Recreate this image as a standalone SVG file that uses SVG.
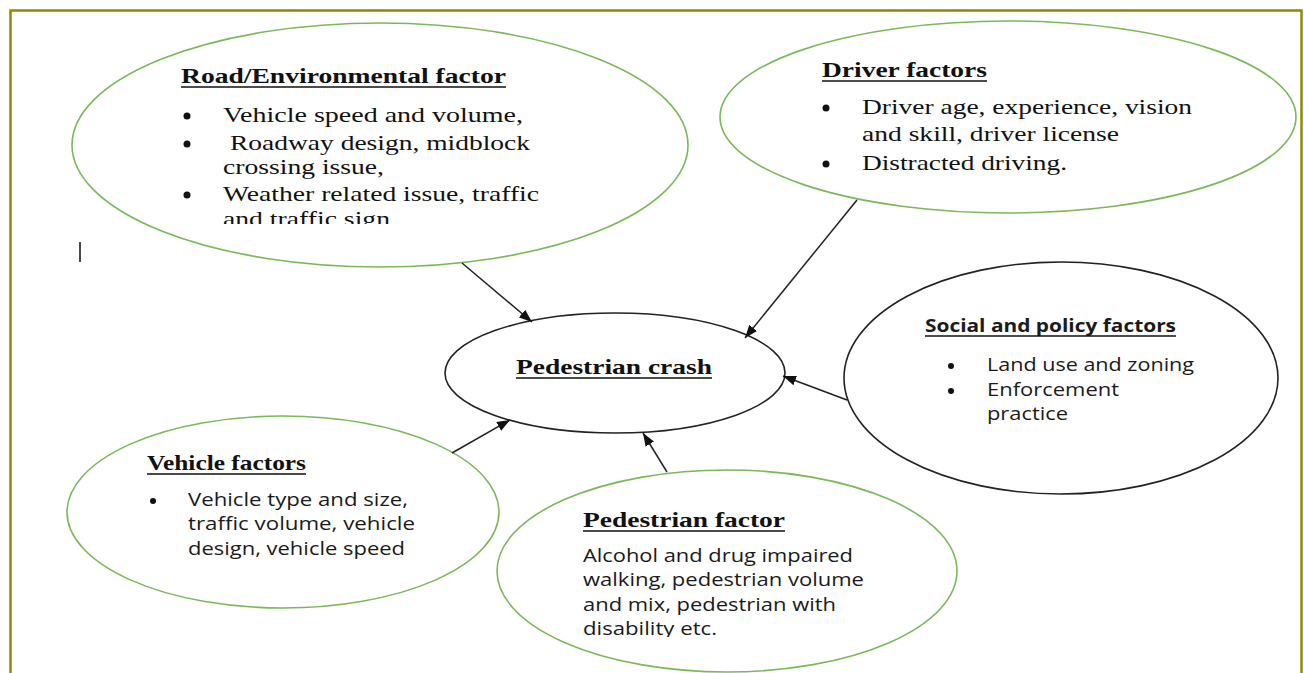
<svg xmlns="http://www.w3.org/2000/svg" width="1304" height="673" viewBox="0 0 1304 673">
<style>
.bg{fill:#ffffff}
.frame{fill:none;stroke:#8c8c00;stroke-width:2.5}
.eg{fill:#ffffff;stroke:#7ab95a;stroke-width:1.6}
.ek{fill:#ffffff;stroke:#222222;stroke-width:1.6}
.serif{font-family:"Liberation Serif","Times New Roman",serif;font-size:21px;fill:#111111}
.sb{font-weight:bold}
.sans{font-family:"Open Sans","Liberation Sans",sans-serif;font-size:17.5px;fill:#1a1a1a}
.sansb{font-family:"Open Sans","Liberation Sans",sans-serif;font-size:17.5px;font-weight:bold;fill:#1a1a1a}
.ul{stroke:#111111;stroke-width:1.6}
.dot{fill:#111111}
.conn{stroke:#222222;stroke-width:1.5;fill:none;marker-end:url(#ah)}
</style>
<defs>
<marker id="ah" markerUnits="userSpaceOnUse" markerWidth="13" markerHeight="10" refX="13" refY="5" orient="auto">
<path d="M0,0 L13,5 L0,10 z" fill="#111111"/>
</marker>
<clipPath id="clipRoad"><rect x="60" y="20" width="640" height="204"/></clipPath>
<clipPath id="clipPed"><rect x="490" y="470" width="480" height="167"/></clipPath>
</defs>
<rect class="bg" x="0" y="0" width="1304" height="673"/>
<rect class="frame" x="10.5" y="10.5" width="1291" height="700"/>
<line x1="80" y1="242" x2="80" y2="262" stroke="#111" stroke-width="1.5"/>

<g id="node-road">
<ellipse class="eg" cx="380" cy="145" rx="308" ry="122"/>
<text class="serif sb" x="181" y="83" textLength="325" lengthAdjust="spacingAndGlyphs">Road/Environmental factor</text>
<line class="ul" x1="181" y1="87" x2="506" y2="87"/>
<circle class="dot" cx="187" cy="116" r="3.5"/>
<circle class="dot" cx="187" cy="144" r="3.5"/>
<circle class="dot" cx="187" cy="195" r="3.5"/>
<text class="serif" x="223" y="122" textLength="300" lengthAdjust="spacingAndGlyphs">Vehicle speed and volume,</text>
<text class="serif" x="230" y="150" textLength="300" lengthAdjust="spacingAndGlyphs">Roadway design, midblock</text>
<text class="serif" x="223" y="174" textLength="161" lengthAdjust="spacingAndGlyphs">crossing issue,</text>
<text class="serif" x="223" y="201" textLength="316" lengthAdjust="spacingAndGlyphs">Weather related issue, traffic</text>
<text class="serif" x="223" y="226" textLength="167" lengthAdjust="spacingAndGlyphs" clip-path="url(#clipRoad)">and traffic sign</text>
</g>

<g id="node-driver">
<ellipse class="eg" cx="1008" cy="117" rx="288" ry="96"/>
<text class="serif sb" x="822" y="77" textLength="165" lengthAdjust="spacingAndGlyphs">Driver factors</text>
<line class="ul" x1="822" y1="81" x2="987" y2="81"/>
<circle class="dot" cx="826" cy="108" r="3.5"/>
<circle class="dot" cx="826" cy="164" r="3.5"/>
<text class="serif" x="862" y="114" textLength="330" lengthAdjust="spacingAndGlyphs">Driver age, experience, vision</text>
<text class="serif" x="862" y="141" textLength="257" lengthAdjust="spacingAndGlyphs">and skill, driver license</text>
<text class="serif" x="862" y="170" textLength="205" lengthAdjust="spacingAndGlyphs">Distracted driving.</text>
</g>

<g id="node-crash">
<ellipse class="ek" cx="615" cy="373" rx="170" ry="60"/>
<text class="serif sb" x="516" y="374" textLength="196" lengthAdjust="spacingAndGlyphs">Pedestrian crash</text>
<line class="ul" x1="516" y1="378" x2="712" y2="378"/>
</g>

<g id="node-social">
<ellipse class="ek" cx="1061" cy="378" rx="217" ry="116"/>
<text class="sansb" x="925" y="332" textLength="251" lengthAdjust="spacingAndGlyphs">Social and policy factors</text>
<line class="ul" x1="925" y1="336" x2="1176" y2="336"/>
<circle class="dot" cx="951" cy="366" r="3"/>
<circle class="dot" cx="951" cy="391" r="3"/>
<text class="sans" x="987" y="371" textLength="207" lengthAdjust="spacingAndGlyphs">Land use and zoning</text>
<text class="sans" x="987" y="396" textLength="132" lengthAdjust="spacingAndGlyphs">Enforcement</text>
<text class="sans" x="987" y="420" textLength="81" lengthAdjust="spacingAndGlyphs">practice</text>
</g>

<g id="node-vehicle">
<ellipse class="eg" cx="283" cy="512" rx="216" ry="96"/>
<text class="serif sb" x="147" y="470" textLength="159" lengthAdjust="spacingAndGlyphs">Vehicle factors</text>
<line class="ul" x1="147" y1="474" x2="306" y2="474"/>
<circle class="dot" cx="153" cy="501" r="3"/>
<text class="sans" x="188" y="506" textLength="220" lengthAdjust="spacingAndGlyphs">Vehicle type and size,</text>
<text class="sans" x="188" y="530" textLength="227" lengthAdjust="spacingAndGlyphs">traffic volume, vehicle</text>
<text class="sans" x="188" y="555" textLength="217" lengthAdjust="spacingAndGlyphs">design, vehicle speed</text>
</g>

<g id="node-pedestrian">
<ellipse class="eg" cx="727" cy="571" rx="230" ry="101"/>
<text class="serif sb" x="583" y="527" textLength="202" lengthAdjust="spacingAndGlyphs">Pedestrian factor</text>
<line class="ul" x1="583" y1="531" x2="785" y2="531"/>
<text class="sans" x="583" y="562" textLength="270" lengthAdjust="spacingAndGlyphs">Alcohol and drug impaired</text>
<text class="sans" x="583" y="586" textLength="281" lengthAdjust="spacingAndGlyphs">walking, pedestrian volume</text>
<text class="sans" x="583" y="611" textLength="253" lengthAdjust="spacingAndGlyphs">and mix, pedestrian with</text>
<text class="sans" x="583" y="635" textLength="134" lengthAdjust="spacingAndGlyphs" clip-path="url(#clipPed)">disability etc.</text>
</g>

<g id="connectors">
<line class="conn" x1="462" y1="263" x2="532" y2="322"/>
<line class="conn" x1="857" y1="200" x2="745" y2="338"/>
<line class="conn" x1="847" y1="400" x2="783" y2="376"/>
<line class="conn" x1="452" y1="453" x2="510" y2="420"/>
<line class="conn" x1="667" y1="472" x2="643" y2="433"/>
</g>
</svg>
